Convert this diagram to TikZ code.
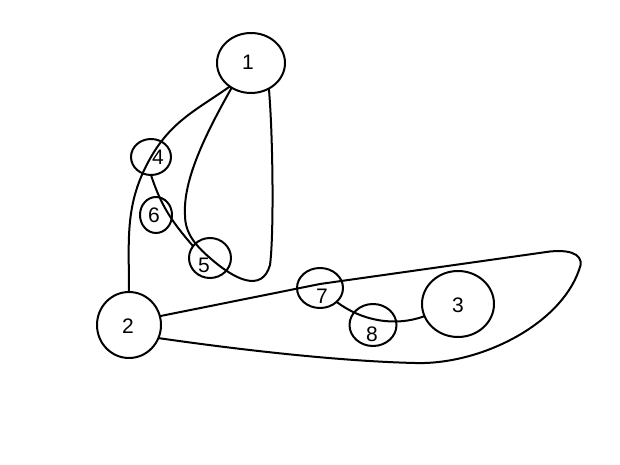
\documentclass[tikz,border=0pt]{standalone}
\usepackage{fontspec}
\setmainfont{Liberation Sans}
\usetikzlibrary{shapes.geometric}
\begin{document}
\begin{tikzpicture}[x=1pt,y=1pt,
  vtx/.style={ellipse,draw,line width=2pt,inner sep=0pt,outer sep=0pt},
  lbl/.style={font=\fontsize{21}{24}\selectfont},
  wire/.style={line width=2pt,line join=round}]
\useasboundingbox (0,0) rectangle (620,465);
\fill[white] (0,0) rectangle (620,465);
\node[vtx,minimum width=68pt,minimum height=60pt] (n1) at (251,402) {};
\node[vtx,minimum width=40pt,minimum height=36pt] (n4) at (151,308) {};
\node[vtx,minimum width=32pt,minimum height=36pt] (n6) at (156,250) {};
\node[vtx,minimum width=42pt,minimum height=40pt] (n5) at (210,207) {};
\node[vtx,minimum width=46pt,minimum height=40pt] (n7) at (320,177) {};
\node[vtx,minimum width=47pt,minimum height=42pt] (n8) at (373,140) {};
\node[vtx,minimum width=72pt,minimum height=66pt] (n3) at (458,161) {};
\node[vtx,minimum width=64pt,minimum height=66pt] (n2) at (129,140) {};
\node[lbl] (t1) at (248,403) {1};
\node[lbl] (t4) at (158,308) {4};
\node[lbl] (t6) at (154,250) {6};
\node[lbl] (t5) at (204,200) {5};
\node[lbl] (t7) at (322,169) {7};
\node[lbl] (t8) at (372,131) {8};
\node[lbl] (t3) at (458,160) {3};
\node[lbl] (t2) at (128,139) {2};
% 1 - 4 - 2
\draw[wire] (n1.228) to[out=215,in=60] (n4.center) to[out=240,in=90] (n2.north);
% 1 - 5 - 1 loop
\draw[wire] (n1.232) .. controls (205,330) and (183,285) .. (185,250)
  .. controls (185,232) and (195,220) .. (n5.center)
  .. controls (235,185) and (262,172) .. (270,200)
  .. controls (274,230) and (273,330) .. (n1.305);
% 4 - 6 - 5
\draw[wire] (n4.south) to[out=-72,in=131] (n5.145);
% 2 - 7 - loop - 2
\draw[wire] (n2.16) -- ([yshift=4pt]n7.center) -- (550,213.5)
  .. controls (575,216) and (585,208) .. (579,195)
  .. controls (560,140) and (480,100) .. (415,102)
  .. controls (330,104) and (220,118) .. (n2.-24);
% 7 - 8 - 3
\draw[wire] (n7.-40) .. controls (362,144) and (395,138) .. (n3.200);
\end{tikzpicture}
\end{document}
